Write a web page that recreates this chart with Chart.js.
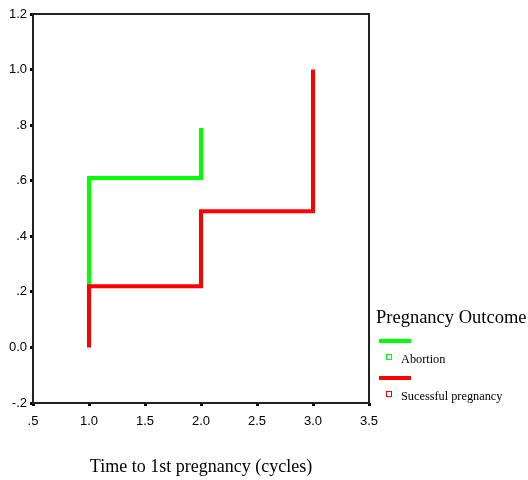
<!DOCTYPE html>
<html>
<head>
<meta charset="utf-8">
<script src="https://cdn.jsdelivr.net/npm/chart.js@4/dist/chart.umd.min.js"></script>
<style>
  html, body { margin: 0; padding: 0; background: #fff; }
  #wrap { width: 528px; height: 480px; position: relative; }
</style>
</head>
<body>
<div id="wrap"><canvas id="myChart" width="528" height="480"></canvas></div>
<script>
// step points (time in cycles, cumulative proportion)
const abortionTimes = [1, 1, 2];
const abortionValues = [0.22, 0.61, 0.79];
const successTimes = [1, 1, 2, 3];
const successValues = [0, 0.22, 0.49, 1.0];

const groupNames = ["Abortion", "Sucessful pregnancy"];
const groupColors = ["#00ff00", "#ff0000"];
const legendTitle = "Pregnancy Outcome";
const xTitle = "Time to 1st pregnancy (cycles)";

function toPoints(xs, ys) {
  return xs.map((x, i) => ({ x: x, y: ys[i] }));
}

// SPSS style numbers: .5, 1.0, -.2, 0.0
function spssNum(v) {
  v = Math.round(v * 10) / 10;
  let s = v.toFixed(1);
  if (v !== 0 && Math.abs(v) < 1) s = s.replace("0.", ".");
  return s;
}

const boxPlugin = {
  id: "box",
  beforeDatasetsDraw(chart) {
    const a = chart.chartArea;
    const ctx = chart.ctx;
    ctx.save();
    ctx.strokeStyle = "#222";
    ctx.lineWidth = 2;
    ctx.strokeRect(a.left, a.top, a.right - a.left, a.bottom - a.top);
    ctx.restore();
  },
  afterDraw(chart) {
    const ctx = chart.ctx;
    ctx.save();
    ctx.fillStyle = "#000";
    ctx.textBaseline = "middle";
    ctx.font = "18.5px 'Liberation Serif'";
    ctx.fillText(legendTitle, 376, 318);
    groupNames.forEach((name, i) => {
      const y0 = 341 + i * 37;
      ctx.strokeStyle = groupColors[i];
      ctx.lineWidth = 4;
      ctx.beginPath();
      ctx.moveTo(379, y0);
      ctx.lineTo(411, y0);
      ctx.stroke();
      ctx.lineWidth = 1;
      ctx.strokeRect(386.5, y0 + 13.5, 5, 5);
      ctx.font = "12.3px 'Liberation Serif'";
      ctx.fillText(name, 401, y0 + 19);
    });
    ctx.restore();
  }
};

const ctx = document.getElementById("myChart");
new Chart(ctx, {
  type: "line",
  data: {
    datasets: [
      {
        label: groupNames[1],
        data: toPoints(successTimes, successValues),
        borderColor: groupColors[1],
        borderWidth: 4,
        stepped: "before",
        pointRadius: 0,
        fill: false
      },
      {
        label: groupNames[0],
        data: toPoints(abortionTimes, abortionValues),
        borderColor: groupColors[0],
        borderWidth: 4,
        stepped: "before",
        pointRadius: 0,
        fill: false
      }
    ]
  },
  options: {
    responsive: false,
    animation: false,
    layout: { padding: { left: 0, right: 159, top: 14, bottom: 0 } },
    plugins: { legend: { display: false }, tooltip: { enabled: false } },
    scales: {
      x: {
        type: "linear",
        min: 0.5,
        max: 3.5,
        afterFit(s) { s.height = 77; },
        border: { display: false },
        grid: { drawOnChartArea: false, drawTicks: true, tickLength: 3, lineWidth: 3, color: "#000" },
        ticks: {
          stepSize: 0.5,
          padding: 8,
          color: "#000",
          font: { family: "'Liberation Sans'", size: 13 },
          callback: (v) => spssNum(v)
        },
        title: {
          display: true,
          text: xTitle,
          color: "#000",
          font: { family: "'Liberation Serif'", size: 18 },
          padding: { top: 0, bottom: 2 }
        }
      },
      y: {
        min: -0.2,
        max: 1.2,
        afterFit(s) { s.width = 33; },
        border: { display: false },
        grid: { drawOnChartArea: false, drawTicks: true, tickLength: 3, lineWidth: 3, color: "#000" },
        ticks: {
          stepSize: 0.2,
          padding: 3,
          color: "#000",
          font: { family: "'Liberation Sans'", size: 13 },
          callback: (v) => spssNum(v)
        }
      }
    }
  },
  plugins: [boxPlugin]
});
</script>
</body>
</html>
